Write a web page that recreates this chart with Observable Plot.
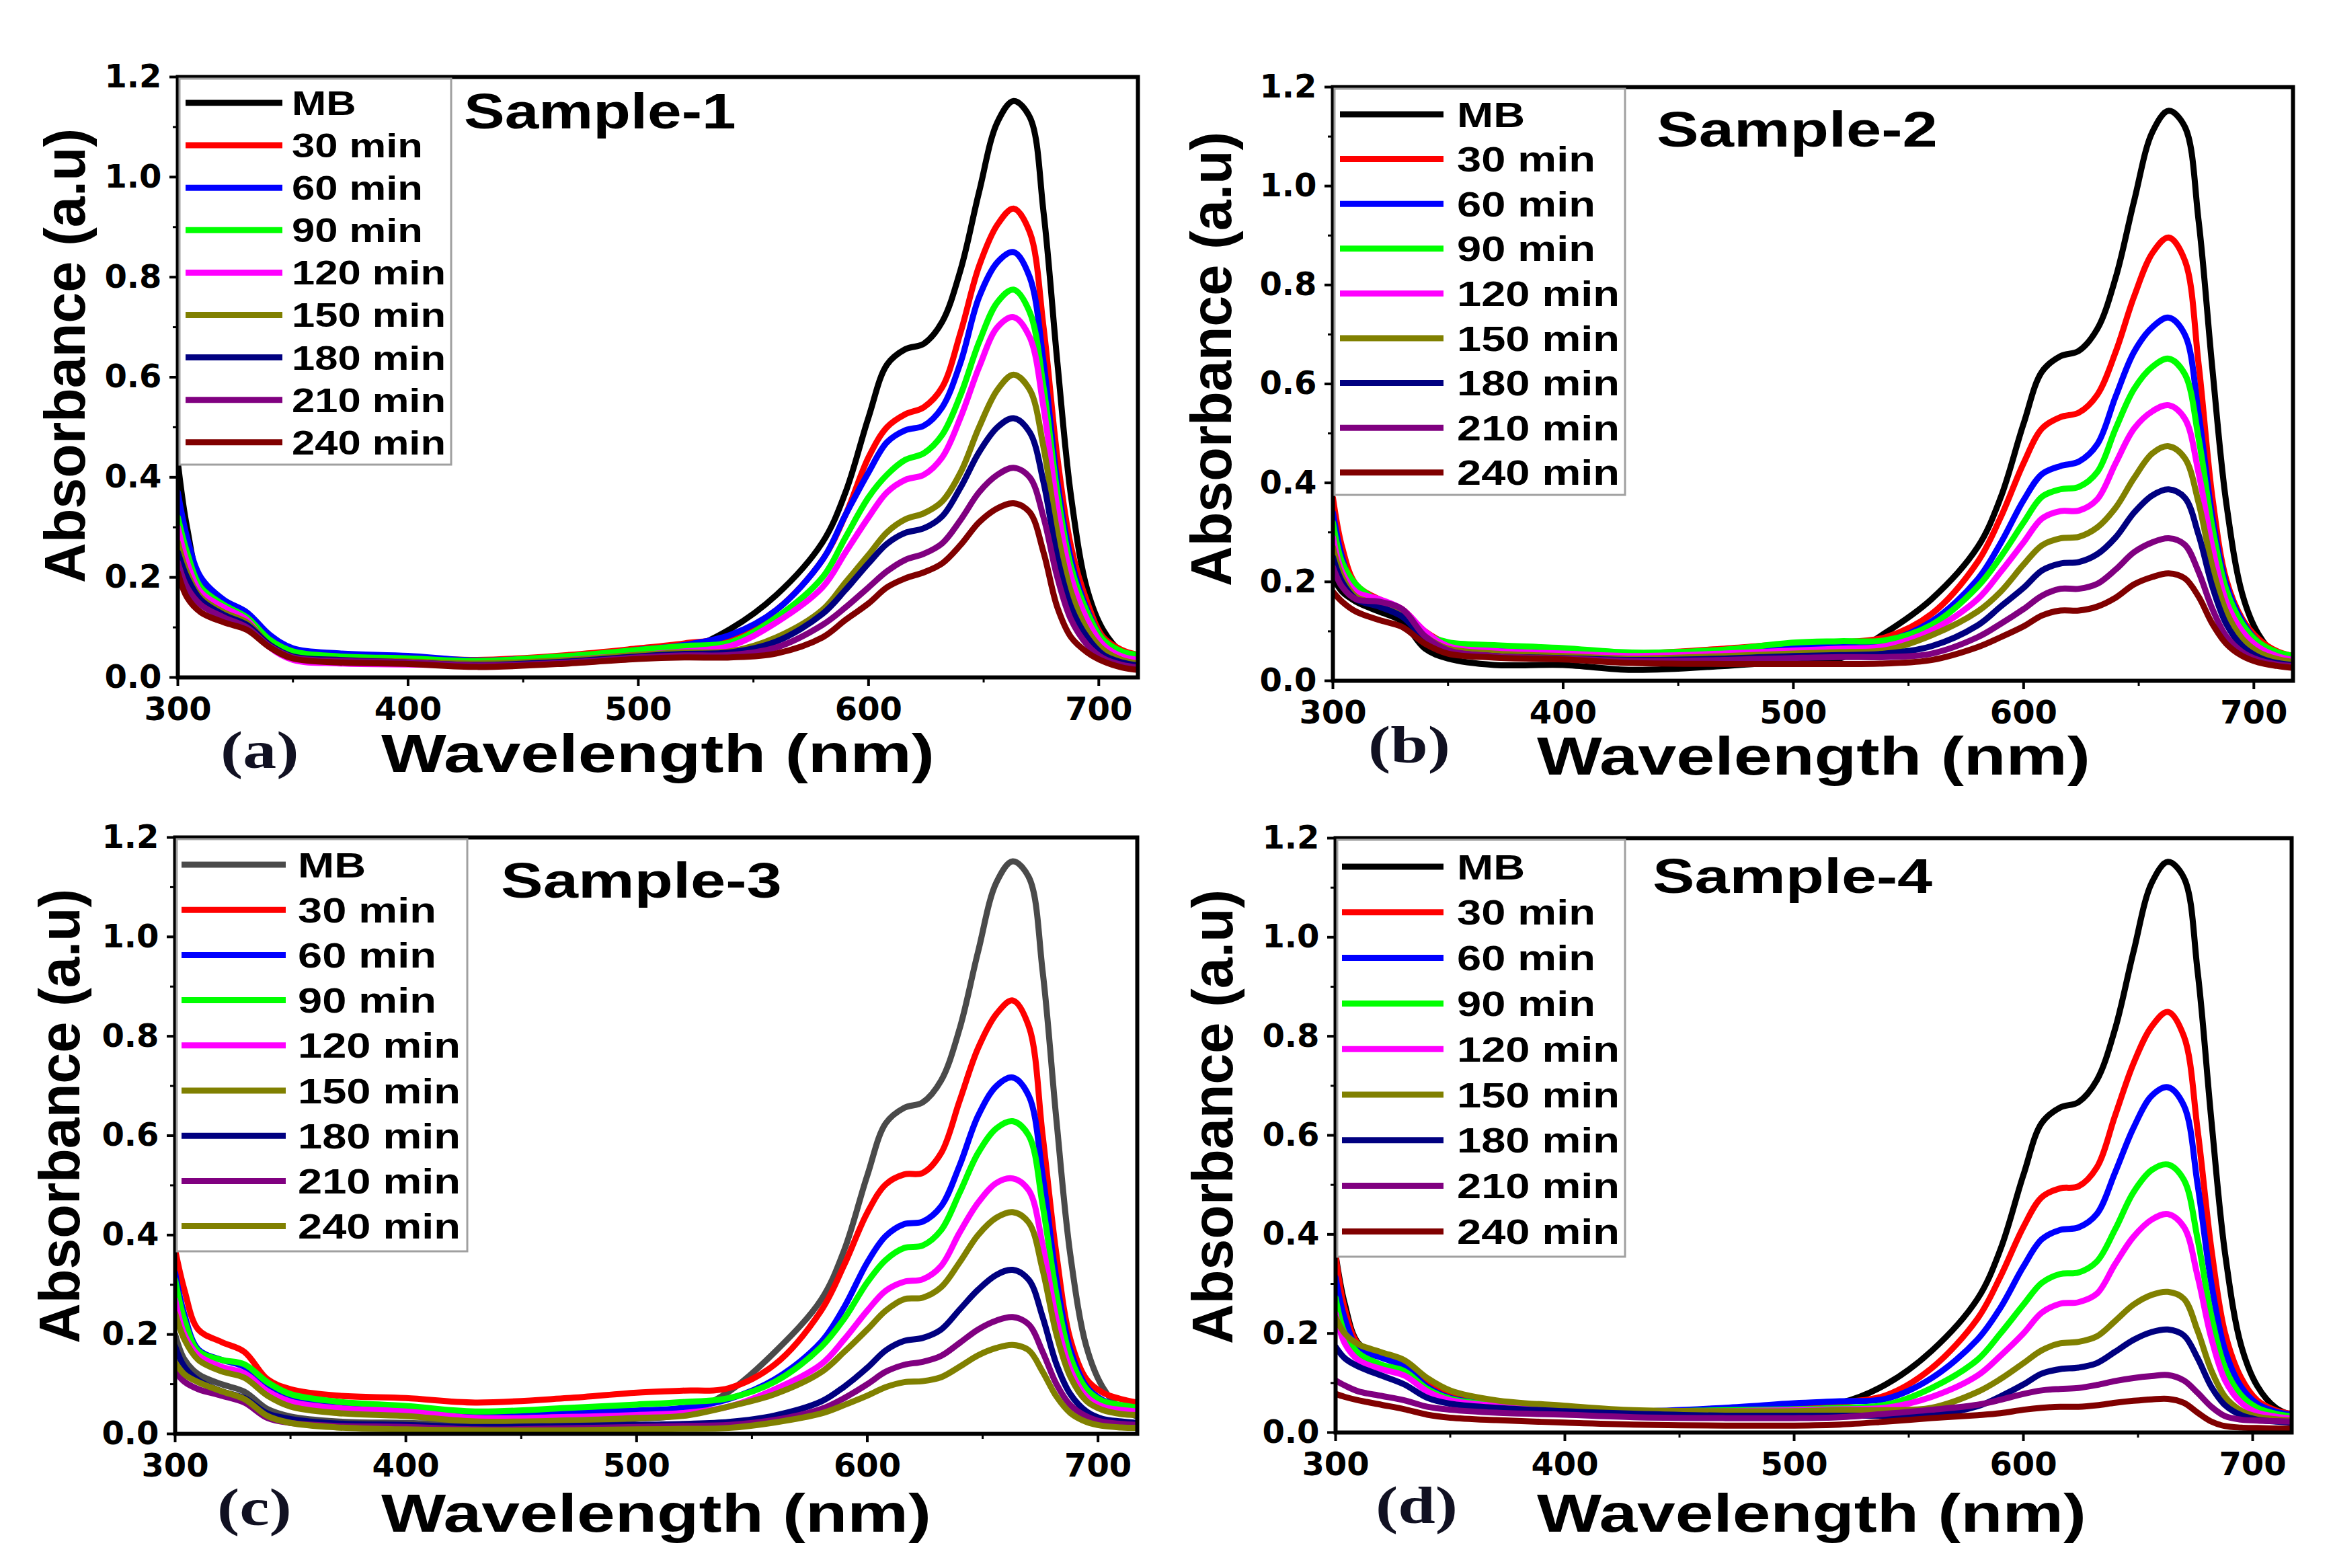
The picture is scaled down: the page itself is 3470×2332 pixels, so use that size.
<!DOCTYPE html>
<html><head><meta charset="utf-8">
<script src="https://cdn.jsdelivr.net/npm/d3@7"></script>
<script src="https://cdn.jsdelivr.net/npm/@observablehq/plot@0.6"></script>
<style>
html,body{margin:0;padding:0;background:#fff;}
#page{position:relative;width:3470px;height:2332px;overflow:hidden;background:#fff;}
</style></head><body><div id="page"></div>
<script>
// ---------- data ----------
const WL = [300,304,310,320,330,340,350,370,400,430,470,500,520,540,560,580,590,600,608,616,624,632,640,648,656,663,670,676,682,688,695,702,710,717];
const LABELS = ["MB","30 min","60 min","90 min","120 min","150 min","180 min","210 min","240 min"];
const COLORS = ["#000000","#ff0000","#0000ff","#00ff00","#ff00ff","#808000","#000080","#800080","#800000"];
const COLORS_3 = ["#4a4a4a","#ff0000","#0000ff","#00ff00","#ff00ff","#808000","#000080","#800080","#808000"];
const TITLES = ["Sample-1","Sample-2","Sample-3","Sample-4"];
const TAGS = ["(a)","(b)","(c)","(d)"];
const X_MAJOR = [300,400,500,600,700];
const X_MINOR = [350,450,550,650];
const Y_MAJOR = [0,0.2,0.4,0.6,0.8,1.0,1.2];
const Y_MINOR = [0.1,0.3,0.5,0.7,0.9,1.1];

// Sample-1
const S1_MB  = [0.43,0.30,0.19,0.15,0.12,0.075,0.05,0.04,0.035,0.028,0.035,0.045,0.055,0.097,0.165,0.27,0.37,0.52,0.625,0.656,0.667,0.711,0.815,0.97,1.11,1.152,1.12,0.93,0.63,0.36,0.175,0.094,0.05,0.035];
const S1_30  = [0.28,0.22,0.165,0.14,0.12,0.075,0.05,0.042,0.04,0.035,0.045,0.058,0.068,0.082,0.135,0.235,0.325,0.44,0.50,0.526,0.54,0.58,0.69,0.822,0.905,0.937,0.89,0.70,0.44,0.26,0.15,0.08,0.055,0.045];
const S1_60  = [0.37,0.28,0.20,0.155,0.13,0.085,0.058,0.048,0.043,0.034,0.042,0.055,0.065,0.085,0.135,0.235,0.325,0.41,0.47,0.494,0.503,0.54,0.63,0.76,0.83,0.85,0.80,0.63,0.39,0.235,0.135,0.075,0.05,0.042];
const S1_90  = [0.32,0.25,0.18,0.145,0.12,0.075,0.052,0.042,0.038,0.033,0.043,0.055,0.063,0.07,0.12,0.2,0.28,0.36,0.405,0.435,0.448,0.485,0.565,0.67,0.75,0.775,0.73,0.58,0.37,0.22,0.13,0.075,0.052,0.045];
const S1_120 = [0.30,0.23,0.17,0.14,0.115,0.06,0.035,0.028,0.026,0.025,0.035,0.045,0.052,0.063,0.11,0.18,0.25,0.32,0.37,0.395,0.405,0.44,0.52,0.62,0.70,0.72,0.68,0.54,0.34,0.20,0.115,0.065,0.042,0.035];
const S1_150 = [0.27,0.21,0.16,0.13,0.11,0.065,0.042,0.035,0.032,0.028,0.035,0.045,0.05,0.052,0.08,0.135,0.19,0.245,0.29,0.316,0.328,0.352,0.41,0.50,0.575,0.605,0.575,0.46,0.29,0.17,0.095,0.055,0.035,0.028];
const S1_180 = [0.25,0.20,0.155,0.125,0.105,0.065,0.042,0.035,0.03,0.025,0.032,0.042,0.047,0.05,0.072,0.127,0.175,0.228,0.267,0.289,0.298,0.322,0.38,0.45,0.50,0.518,0.49,0.39,0.24,0.14,0.08,0.045,0.03,0.024];
const S1_210 = [0.23,0.18,0.145,0.12,0.10,0.062,0.04,0.033,0.03,0.024,0.03,0.04,0.044,0.045,0.06,0.105,0.14,0.18,0.212,0.235,0.247,0.268,0.315,0.37,0.405,0.419,0.40,0.32,0.20,0.115,0.065,0.038,0.025,0.02];
const S1_240 = [0.21,0.16,0.13,0.11,0.095,0.06,0.038,0.03,0.027,0.021,0.028,0.037,0.04,0.04,0.048,0.08,0.115,0.148,0.18,0.198,0.21,0.228,0.265,0.31,0.338,0.348,0.33,0.25,0.14,0.08,0.05,0.032,0.02,0.015];

// Sample-2
const S2_MB  = [0.21,0.18,0.16,0.14,0.12,0.065,0.045,0.032,0.032,0.022,0.03,0.04,0.045,0.097,0.165,0.27,0.37,0.52,0.625,0.656,0.667,0.711,0.815,0.97,1.11,1.152,1.12,0.93,0.63,0.36,0.175,0.094,0.05,0.035];
const S2_30  = [0.37,0.27,0.195,0.165,0.145,0.10,0.075,0.068,0.06,0.055,0.065,0.075,0.078,0.088,0.135,0.24,0.33,0.44,0.51,0.533,0.542,0.578,0.665,0.777,0.865,0.896,0.85,0.64,0.37,0.205,0.125,0.085,0.06,0.05];
const S2_60  = [0.34,0.25,0.18,0.155,0.135,0.09,0.075,0.062,0.058,0.052,0.06,0.07,0.074,0.08,0.12,0.205,0.278,0.365,0.418,0.434,0.443,0.478,0.575,0.665,0.715,0.734,0.70,0.54,0.33,0.195,0.12,0.078,0.055,0.045];
const S2_90  = [0.32,0.24,0.195,0.16,0.14,0.095,0.078,0.072,0.066,0.057,0.063,0.077,0.08,0.082,0.113,0.19,0.25,0.32,0.372,0.387,0.392,0.422,0.51,0.59,0.635,0.651,0.62,0.49,0.31,0.185,0.115,0.078,0.058,0.05];
const S2_120 = [0.29,0.22,0.18,0.165,0.145,0.10,0.07,0.06,0.055,0.05,0.055,0.061,0.065,0.07,0.102,0.165,0.22,0.28,0.328,0.343,0.344,0.367,0.44,0.51,0.545,0.557,0.53,0.42,0.27,0.16,0.10,0.068,0.05,0.042];
const S2_150 = [0.27,0.21,0.17,0.155,0.135,0.09,0.065,0.055,0.05,0.045,0.05,0.055,0.058,0.062,0.092,0.14,0.18,0.235,0.274,0.288,0.291,0.31,0.35,0.41,0.46,0.474,0.45,0.36,0.23,0.14,0.085,0.058,0.044,0.038];
const S2_180 = [0.25,0.20,0.165,0.15,0.13,0.085,0.06,0.05,0.046,0.042,0.045,0.05,0.052,0.055,0.07,0.112,0.15,0.188,0.223,0.237,0.24,0.256,0.29,0.34,0.375,0.387,0.37,0.295,0.19,0.115,0.07,0.048,0.036,0.032];
const S2_210 = [0.23,0.19,0.165,0.16,0.145,0.09,0.062,0.05,0.045,0.04,0.042,0.046,0.048,0.048,0.055,0.088,0.115,0.145,0.172,0.186,0.186,0.196,0.225,0.26,0.28,0.288,0.275,0.22,0.145,0.09,0.058,0.042,0.033,0.03];
const S2_240 = [0.18,0.16,0.14,0.123,0.109,0.075,0.055,0.047,0.043,0.036,0.034,0.034,0.034,0.035,0.042,0.068,0.088,0.11,0.132,0.142,0.142,0.15,0.168,0.195,0.21,0.217,0.207,0.17,0.115,0.075,0.05,0.037,0.03,0.026];

// Sample-3
const S3_MB  = [0.2,0.15,0.12,0.1,0.085,0.05,0.035,0.025,0.022,0.02,0.025,0.03,0.04,0.085,0.165,0.27,0.37,0.52,0.625,0.656,0.667,0.711,0.815,0.97,1.11,1.152,1.12,0.93,0.63,0.36,0.175,0.094,0.05,0.035];
const S3_30  = [0.37,0.29,0.21,0.185,0.165,0.11,0.09,0.077,0.072,0.063,0.072,0.083,0.087,0.092,0.14,0.248,0.34,0.445,0.502,0.522,0.525,0.565,0.67,0.776,0.845,0.872,0.82,0.60,0.36,0.19,0.11,0.083,0.07,0.063];
const S3_60  = [0.324,0.24,0.17,0.149,0.135,0.095,0.072,0.06,0.054,0.043,0.045,0.047,0.052,0.07,0.11,0.185,0.255,0.345,0.398,0.422,0.427,0.458,0.54,0.64,0.70,0.717,0.68,0.52,0.31,0.17,0.095,0.068,0.055,0.05];
const S3_90  = [0.31,0.23,0.167,0.149,0.14,0.104,0.08,0.065,0.056,0.045,0.052,0.059,0.064,0.072,0.105,0.175,0.232,0.305,0.35,0.374,0.379,0.41,0.485,0.565,0.615,0.629,0.60,0.46,0.28,0.155,0.09,0.066,0.058,0.053];
const S3_120 = [0.27,0.2,0.158,0.135,0.122,0.086,0.065,0.052,0.045,0.032,0.034,0.038,0.042,0.055,0.09,0.14,0.19,0.248,0.288,0.306,0.311,0.338,0.405,0.465,0.505,0.514,0.49,0.38,0.23,0.13,0.075,0.055,0.048,0.045];
const S3_150 = [0.243,0.19,0.149,0.126,0.113,0.077,0.055,0.042,0.036,0.025,0.027,0.032,0.036,0.055,0.08,0.124,0.165,0.21,0.248,0.271,0.274,0.295,0.345,0.40,0.435,0.446,0.425,0.33,0.20,0.115,0.066,0.048,0.04,0.038];
const S3_180 = [0.176,0.135,0.108,0.086,0.072,0.041,0.03,0.021,0.018,0.014,0.016,0.018,0.02,0.024,0.037,0.065,0.095,0.133,0.168,0.187,0.193,0.21,0.25,0.29,0.32,0.33,0.31,0.235,0.14,0.08,0.045,0.03,0.025,0.022];
const S3_210 = [0.126,0.105,0.09,0.077,0.063,0.032,0.022,0.016,0.014,0.009,0.011,0.014,0.016,0.018,0.028,0.05,0.072,0.1,0.125,0.139,0.145,0.157,0.183,0.21,0.228,0.235,0.22,0.165,0.10,0.058,0.035,0.024,0.02,0.018];
const S3_240 = [0.144,0.12,0.104,0.086,0.07,0.036,0.022,0.013,0.009,0.007,0.007,0.009,0.01,0.012,0.023,0.041,0.058,0.077,0.094,0.104,0.106,0.114,0.135,0.158,0.173,0.179,0.168,0.125,0.075,0.042,0.024,0.016,0.013,0.012];

// Sample-4
const S4_MB  = [0.36,0.26,0.18,0.155,0.135,0.092,0.07,0.055,0.048,0.042,0.046,0.055,0.06,0.097,0.165,0.27,0.37,0.52,0.625,0.656,0.667,0.711,0.815,0.97,1.11,1.152,1.12,0.93,0.63,0.36,0.175,0.094,0.05,0.035];
const S4_30  = [0.358,0.25,0.178,0.155,0.137,0.097,0.074,0.061,0.05,0.043,0.047,0.056,0.061,0.075,0.13,0.23,0.315,0.415,0.475,0.493,0.497,0.535,0.64,0.745,0.82,0.849,0.80,0.61,0.37,0.20,0.11,0.065,0.045,0.038];
const S4_60  = [0.313,0.23,0.169,0.151,0.133,0.092,0.07,0.056,0.05,0.043,0.05,0.059,0.063,0.068,0.11,0.188,0.252,0.335,0.39,0.409,0.414,0.441,0.525,0.615,0.68,0.697,0.66,0.50,0.30,0.165,0.092,0.058,0.042,0.036];
const S4_90  = [0.272,0.2,0.16,0.137,0.124,0.088,0.068,0.056,0.05,0.043,0.045,0.047,0.05,0.056,0.09,0.147,0.2,0.258,0.302,0.32,0.323,0.345,0.41,0.485,0.53,0.541,0.51,0.39,0.235,0.13,0.075,0.05,0.038,0.033];
const S4_120 = [0.24,0.18,0.146,0.128,0.115,0.083,0.065,0.054,0.047,0.043,0.043,0.045,0.047,0.05,0.072,0.115,0.155,0.2,0.242,0.26,0.263,0.28,0.34,0.395,0.43,0.441,0.415,0.315,0.19,0.105,0.06,0.04,0.032,0.028];
const S4_150 = [0.232,0.2,0.178,0.162,0.146,0.11,0.085,0.065,0.054,0.045,0.043,0.043,0.045,0.045,0.05,0.082,0.108,0.14,0.166,0.18,0.183,0.194,0.225,0.258,0.278,0.284,0.27,0.205,0.125,0.072,0.044,0.032,0.027,0.024];
const S4_180 = [0.173,0.15,0.133,0.115,0.097,0.07,0.058,0.05,0.043,0.038,0.034,0.034,0.034,0.034,0.036,0.053,0.073,0.097,0.119,0.128,0.131,0.14,0.163,0.187,0.203,0.208,0.196,0.15,0.092,0.055,0.035,0.026,0.022,0.02];
const S4_210 = [0.105,0.095,0.083,0.074,0.065,0.052,0.046,0.04,0.036,0.031,0.029,0.029,0.031,0.038,0.046,0.056,0.066,0.078,0.085,0.088,0.09,0.096,0.104,0.11,0.114,0.116,0.105,0.08,0.052,0.033,0.026,0.024,0.023,0.022];
const S4_240 = [0.078,0.072,0.065,0.056,0.047,0.036,0.03,0.025,0.02,0.016,0.014,0.014,0.016,0.022,0.029,0.035,0.039,0.046,0.05,0.052,0.052,0.055,0.06,0.064,0.067,0.068,0.06,0.04,0.022,0.013,0.01,0.009,0.008,0.008];

const SERIES = [
  [S1_MB,S1_30,S1_60,S1_90,S1_120,S1_150,S1_180,S1_210,S1_240],
  [S2_MB,S2_30,S2_60,S2_90,S2_120,S2_150,S2_180,S2_210,S2_240],
  [S3_MB,S3_30,S3_60,S3_90,S3_120,S3_150,S3_180,S3_210,S3_240],
  [S4_MB,S4_30,S4_60,S4_90,S4_120,S4_150,S4_180,S4_210,S4_240]
];
const PALETTES = [COLORS, COLORS, COLORS_3, COLORS];

// ---------- layout (pixels of the page) ----------
const LAYOUT = [
  {frame:[264,114,1692,1007], leg:{r:671,b:691,y0:153,step:63.1,x1:276,x2:420,tx:434,fs:50,sx:1.23},
   title:{x:690,y:191,fs:74,sx:1.23}, tag:{x:328,y:1142}, xl:{x:567,y:1148,w:823}, yl:{x:126,y:529}},
  {frame:[1982,129,3410,1012], leg:{r:2417,b:736,y0:170,step:66.6,x1:1993,x2:2147,tx:2167,fs:52,sx:1.25},
   title:{x:2464,y:218,fs:74,sx:1.27}, tag:{x:2035,y:1134}, xl:{x:2286,y:1152,w:823}, yl:{x:1831,y:534}},
  {frame:[260,1245,1691,2132], leg:{r:695,b:1861,y0:1286,step:67.2,x1:270,x2:425,tx:443,fs:52,sx:1.25},
   title:{x:745,y:1335,fs:74,sx:1.27}, tag:{x:323,y:2268}, xl:{x:567,y:2278,w:818}, yl:{x:118,y:1660}},
  {frame:[1986,1246,3408,2130], leg:{r:2417,b:1869,y0:1289,step:67.8,x1:1996,x2:2147,tx:2167,fs:52,sx:1.25},
   title:{x:2458,y:1328,fs:72,sx:1.30}, tag:{x:2046,y:2265}, xl:{x:2286,y:2278,w:817}, yl:{x:1833,y:1661}}
];

const page = document.getElementById("page");

LAYOUT.forEach((L, k) => {
  const [l,t,r,b] = L.frame;
  const mL = 150, mR = 30, mT = 30, mB = 110;
  const cols = PALETTES[k];
  const data = SERIES[k].flatMap((vals, i) => vals.map((v, j) => ({nm: WL[j], a: v, s: i, c: cols[i]})));
  const svg = Plot.plot({
    width: r - l + mL + mR, height: b - t + mT + mB,
    marginLeft: mL, marginRight: mR, marginTop: mT, marginBottom: mB,
    x: {domain: [300, 717], axis: null},
    y: {domain: [0, 1.2], axis: null},
    color: {type: "identity"},
    style: {fontFamily: "DejaVu Sans", fontWeight: "bold", background: "transparent", color: "#000", overflow: "visible"},
    marks: [
      Plot.line(data, {x: "nm", y: "a", z: "s", stroke: "c", strokeWidth: 9, curve: "catmull-rom", clip: true}),
      Plot.frame({stroke: "#000", strokeWidth: 6}),
      Plot.axisX({ticks: X_MAJOR, tickSize: 13, tickPadding: 16, fontSize: 48, fontWeight: "bold", strokeWidth: 4, label: null, tickFormat: d => String(d)}),
      Plot.axisX({ticks: X_MINOR, tickSize: 8, strokeWidth: 3, label: null, tickFormat: () => ""}),
      Plot.axisY({ticks: Y_MAJOR, tickSize: 12, tickPadding: 12, fontSize: 48, fontWeight: "bold", strokeWidth: 4, label: null, tickFormat: d => d.toFixed(1)}),
      Plot.axisY({ticks: Y_MINOR, tickSize: 7, strokeWidth: 3, label: null, tickFormat: () => ""})
    ]
  });
  svg.style.position = "absolute";
  svg.style.left = (l - mL) + "px";
  svg.style.top = (t - mT) + "px";
  page.appendChild(svg);
});

// ---------- overlay: legends, titles, axis titles, panel tags ----------
const ov = d3.select(page).append("svg")
  .attr("width", 3470).attr("height", 2332)
  .style("position", "absolute").style("left", "0px").style("top", "0px");

LAYOUT.forEach((L, k) => {
  const [l,t,r,b] = L.frame;
  const g = ov.append("g");
  const cols = PALETTES[k];
  g.append("rect").attr("x", l + 3).attr("y", t + 3)
    .attr("width", L.leg.r - l - 3).attr("height", L.leg.b - t - 3)
    .attr("fill", "#fff").attr("stroke", "#a0a0a0").attr("stroke-width", 3);
  LABELS.forEach((lab, i) => {
    const y = L.leg.y0 + i * L.leg.step;
    g.append("line").attr("x1", L.leg.x1).attr("x2", L.leg.x2).attr("y1", y).attr("y2", y)
      .attr("stroke", cols[i]).attr("stroke-width", 9);
    g.append("text").attr("transform", `translate(${L.leg.tx},${y + 0.358 * L.leg.fs}) scale(${L.leg.sx},1)`)
      .attr("font-family", "Liberation Sans, Arial, sans-serif").attr("font-weight", "bold")
      .attr("font-size", L.leg.fs).attr("fill", "#000").text(lab);
  });
  g.append("text").attr("transform", `translate(${L.title.x},${L.title.y}) scale(${L.title.sx},1)`)
    .attr("font-family", "Liberation Sans, Arial, sans-serif").attr("font-weight", "bold")
    .attr("font-size", L.title.fs).attr("fill", "#000").text(TITLES[k]);
  g.append("text").attr("transform", `translate(${L.tag.x},${L.tag.y}) scale(1.28,1)`)
    .attr("font-family", "Liberation Serif, Times New Roman, serif").attr("font-weight", "bold")
    .attr("font-size", 78).attr("fill", "#111122").text(TAGS[k]);
  g.append("text").attr("x", L.xl.x).attr("y", L.xl.y)
    .attr("textLength", L.xl.w).attr("lengthAdjust", "spacingAndGlyphs")
    .attr("font-family", "Liberation Sans, Arial, sans-serif").attr("font-weight", "bold")
    .attr("font-size", 80).attr("fill", "#000").text("Wavelength (nm)");
  g.append("text").attr("transform", `translate(${L.yl.x},${L.yl.y}) rotate(-90)`)
    .attr("text-anchor", "middle")
    .attr("textLength", 676).attr("lengthAdjust", "spacingAndGlyphs")
    .attr("font-family", "Liberation Sans, Arial, sans-serif").attr("font-weight", "bold")
    .attr("font-size", 86).attr("fill", "#000").text("Absorbance (a.u)");
});
</script></body></html>
